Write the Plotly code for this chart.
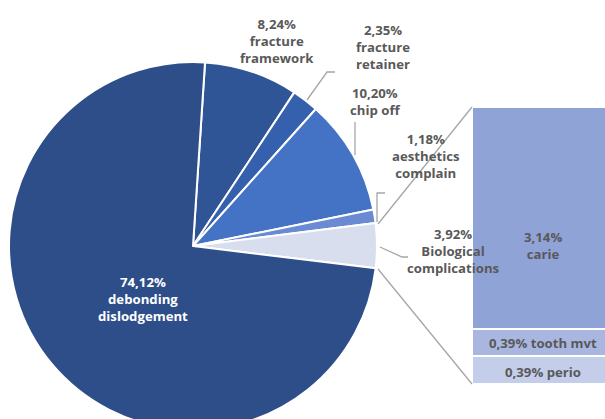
import plotly.graph_objects as go

# ---- data ----
pie_labels = ["fracture framework", "fracture retainer", "chip off",
              "aesthetics complain", "Biological complications",
              "debonding dislodgement"]
pie_values = [8.24, 2.35, 10.20, 1.18, 3.92, 74.12]
pie_colors = ["#2F5597", "#3560AE", "#4472C4", "#6A8BD3", "#D9DEEF", "#2E4E8A"]

bar_labels = ["perio", "tooth mvt", "carie"]
bar_values = [0.39, 0.39, 3.14]
bar_colors = ["#C4CDEA", "#A9B6E0", "#8FA3D7"]

W, H = 605, 432
FAM = "Open Sans"
FS = 13.2
TXT = "#595959"


def px(x, y):
    return x / W, (H - y) / H


def pct(v):
    return ("%.2f%%" % v).replace(".", ",")


fig = go.Figure()

# pie
x0, _ = px(193 - 184, 0)
x1, _ = px(193 + 184, 0)
_, y0 = px(0, 430)
_, y1 = px(0, 62)
fig.add_trace(go.Pie(
    labels=pie_labels, values=pie_values, sort=False, direction="clockwise",
    rotation=3.75, marker=dict(colors=pie_colors, line=dict(color="white", width=2)),
    textinfo="none", hoverinfo="label+percent", showlegend=False,
    domain=dict(x=[x0, x1], y=[y0, y1])))

# stacked bar
for lab, val, col in zip(bar_labels, bar_values, bar_colors):
    fig.add_trace(go.Bar(x=[0], y=[val], width=1, name=lab,
                         marker=dict(color=col, line=dict(color="white", width=2)),
                         showlegend=False, hoverinfo="y+name"))

bx0, by0 = px(472, 384)
_, by1 = px(0, 107)
fig.update_layout(
    barmode="stack",
    width=W, height=H,
    margin=dict(l=0, r=0, t=0, b=0),
    paper_bgcolor="white", plot_bgcolor="white",
    xaxis=dict(domain=[bx0, 1], range=[-0.5, -0.5 + 133 / 142], visible=False, fixedrange=True),
    yaxis=dict(domain=[by0, by1], range=[0, sum(bar_values)], visible=False, fixedrange=True),
    font=dict(family=FAM, size=FS, color=TXT),
)


def ann(x, y, text, color=TXT):
    xp, yp = px(x, y)
    fig.add_annotation(x=xp, y=yp, xref="paper", yref="paper", text=text,
                       showarrow=False, font=dict(family=FAM, size=FS, color=color),
                       align="center", xanchor="center", yanchor="middle")


def b(s):
    return "<b>" + s + "</b>"


ann(277, 41, b(pct(pie_values[0]) + "<br>fracture<br>framework"))
ann(383, 47, b(pct(pie_values[1]) + "<br>fracture<br>retainer"))
ann(375, 101, b(pct(pie_values[2]) + "<br>chip off"))
ann(426, 156, b(pct(pie_values[3]) + "<br>aesthetics<br>complain"))
ann(453, 251, b(pct(pie_values[4]) + "<br>Biological<br>complications"))
ann(143, 299, b(pct(pie_values[5]) + "<br>debonding<br>dislodgement"), color="white")

# bar labels in data coords
cum = 0
bar_text = {"carie": pct(bar_values[2]) + "<br>carie",
            "tooth mvt": pct(bar_values[1]) + " tooth mvt",
            "perio": pct(bar_values[0]) + " perio"}
shifts = {"carie": -28, "tooth mvt": 0, "perio": -2}
for lab, val in zip(bar_labels, bar_values):
    fig.add_annotation(x=0, y=cum + val / 2, xref="x", yref="y", text=b(bar_text[lab]),
                       showarrow=False, font=dict(family=FAM, size=FS, color=TXT),
                       xanchor="center", yanchor="middle", yshift=shifts[lab])
    cum += val


def line(pts, color="#A6A6A6", width=1.3):
    path = ""
    for i, (x, y) in enumerate(pts):
        xp, yp = px(x, y)
        path += ("M" if i == 0 else "L") + " %f %f " % (xp, yp)
    fig.add_shape(type="path", path=path, xref="paper", yref="paper",
                  line=dict(color=color, width=width))


# leader lines
line([(307, 100), (327, 72), (335, 72)])
line([(355, 155), (355, 122)])
line([(377, 222), (377, 193), (385, 193)])
line([(380, 247), (402, 257), (408, 257)])
# connectors pie -> bar
line([(378, 224), (472, 107)])
line([(378, 269), (472, 384)])

fig.write_html(
    "out.html",
    config={"displayModeBar": False},
    post_script="document.body.style.margin='0';"
                "document.documentElement.style.overflow='hidden';"
                "document.body.style.overflow='hidden';")
